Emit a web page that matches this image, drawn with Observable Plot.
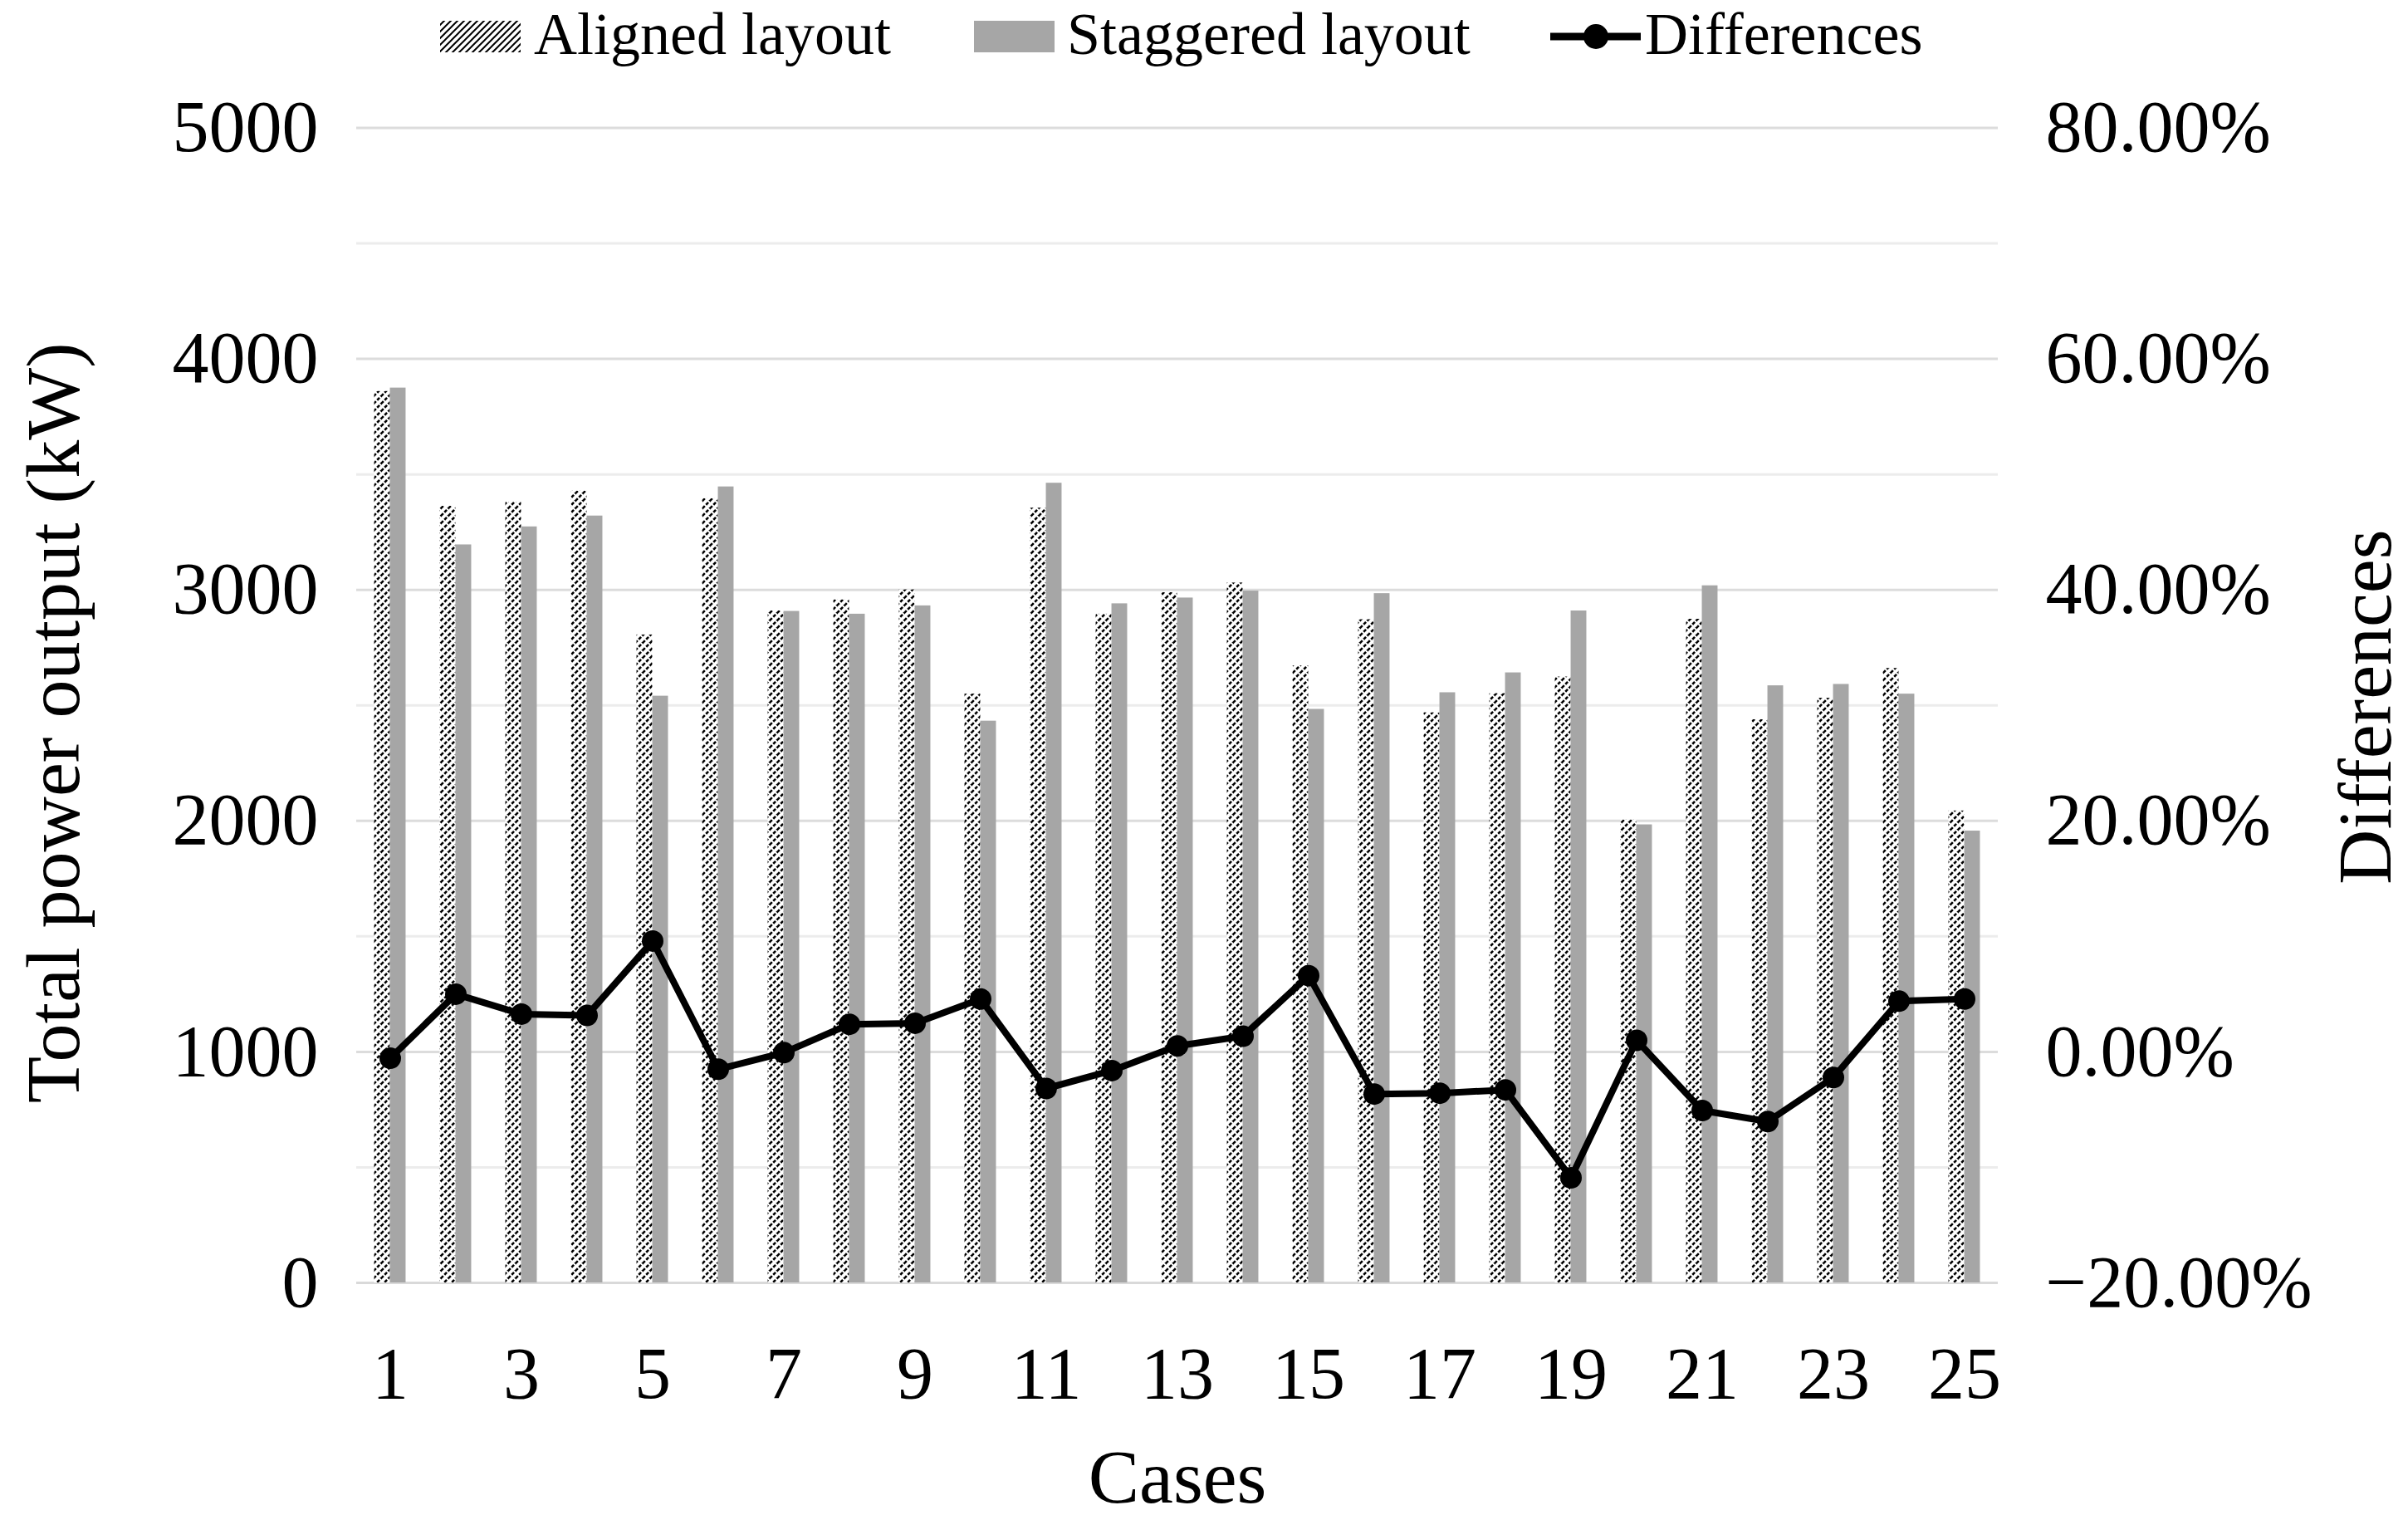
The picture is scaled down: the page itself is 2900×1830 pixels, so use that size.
<!DOCTYPE html>
<html>
<head>
<meta charset="utf-8">
<script src="https://cdn.jsdelivr.net/npm/d3@7"></script>
<script src="https://cdn.jsdelivr.net/npm/@observablehq/plot@0.6"></script>
<style>
  html, body { margin: 0; padding: 0; background: #fff; }
  #chart { width: 2900px; }
  svg { display: block; }
</style>
</head>
<body>
<div id="chart"></div>
<script>
// ---- Data ----
const cases = [1, 2, 3, 4, 5, 6, 7, 8, 9, 10, 11, 12, 13, 14, 15, 16, 17, 18, 19, 20, 21, 22, 23, 24, 25];
const aligned = [3859, 3362, 3380, 3428, 2805, 3395, 2909, 2957, 3000, 2549, 3354, 2895, 2988, 3030, 2671, 2871, 2468, 2551, 2623, 2004, 2873, 2438, 2531, 2660, 2043];
const staggered = [3874, 3195, 3273, 3320, 2540, 3446, 2907, 2895, 2931, 2432, 3462, 2940, 2965, 2995, 2483, 2984, 2555, 2641, 2909, 1983, 3018, 2585, 2591, 2549, 1956];
const differences = [-0.55, 5.0, 3.27, 3.15, 9.6, -1.5, -0.07, 2.39, 2.48, 4.58, -3.17, -1.62, 0.52, 1.36, 6.6, -3.65, -3.58, -3.29, -10.9, 1.0, -5.08, -6.03, -2.22, 4.39, 4.58];
const leftTicks = [0, 1000, 2000, 3000, 4000, 5000];
const rightTickLabels = ["\u221220.00%", "0.00%", "20.00%", "40.00%", "60.00%", "80.00%"];
const xTickLabels = [1, 3, 5, 7, 9, 11, 13, 15, 17, 19, 21, 23, 25];
const gridMajor = [1000, 2000, 3000, 4000, 5000];
const gridMinor = [500, 1500, 2500, 3500, 4500];
const seriesNames = ["Aligned layout", "Staggered layout", "Differences"];

// Right axis (Differences, %) maps -20%..80% onto the left axis 0..5000 kW
const pctToKW = p => (p + 20) * 50;

const alignedData = cases.map((c, i) => ({case: c, value: aligned[i]}));
const staggeredData = cases.map((c, i) => ({case: c, value: staggered[i]}));
const diffData = cases.map((c, i) => ({case: c, diff: differences[i]}));

const FONT = "Liberation Serif, Times New Roman, serif";
const NS = "http://www.w3.org/2000/svg";

function hatchPattern(id, size, sw, dash) {
  const s = size;
  const p = document.createElementNS(NS, "pattern");
  p.setAttribute("id", id);
  p.setAttribute("patternUnits", "userSpaceOnUse");
  p.setAttribute("width", s);
  p.setAttribute("height", s);
  const bg = document.createElementNS(NS, "rect");
  bg.setAttribute("width", s); bg.setAttribute("height", s); bg.setAttribute("fill", "#fff");
  p.appendChild(bg);
  const path = document.createElementNS(NS, "path");
  path.setAttribute("d", `M-1,1 L1,-1 M0,${s} L${s},0 M${s - 1},${s + 1} L${s + 1},${s - 1}`);
  path.setAttribute("stroke", "#000");
  path.setAttribute("stroke-width", sw);
  if (dash) path.setAttribute("stroke-dasharray", dash);
  p.appendChild(path);
  return p;
}

// ---- Legend (above the SVG) ----
const legendH = 90;
const leg = d3.create("svg").attr("width", 2900).attr("height", legendH)
  .style("font-family", FONT).style("font-size", "72px");
leg.append("defs").node().appendChild(hatchPattern("hatchLegend", 8, 2, null));
leg.append("rect").attr("x", 530).attr("y", 25).attr("width", 97).attr("height", 38).attr("fill", "url(#hatchLegend)");
leg.append("text").attr("x", 643).attr("y", 65).text(seriesNames[0]);
leg.append("rect").attr("x", 1173).attr("y", 25).attr("width", 97).attr("height", 38).attr("fill", "#a6a6a6");
leg.append("text").attr("x", 1285).attr("y", 65).text(seriesNames[1]);
leg.append("line").attr("x1", 1867).attr("x2", 1976).attr("y1", 44).attr("y2", 44).attr("stroke", "#000").attr("stroke-width", 9);
leg.append("circle").attr("cx", 1922).attr("cy", 44).attr("r", 15).attr("fill", "#000");
leg.append("text").attr("x", 1981).attr("y", 65).text(seriesNames[2]);
document.getElementById("chart").appendChild(leg.node());

// ---- Chart ----
const W = 2900, H = 1740;
const mL = 429, mR = 494, mT = 63.5, mB = 286;
const bw = (W - mL - mR) / cases.length;
const barW = 19;

const defsMark = () => {
  const d = document.createElementNS(NS, "defs");
  d.appendChild(hatchPattern("hatchAligned", 9, 2.6, "4,2"));
  return d;
};

const chart = Plot.plot({
  width: W,
  height: H,
  marginLeft: mL,
  marginRight: mR,
  marginTop: mT,
  marginBottom: mB,
  style: {fontFamily: FONT, fontSize: "88px", color: "#000", background: "#fff", overflow: "visible"},
  x: {type: "band", domain: cases, padding: 0, label: null},
  y: {domain: [0, 5000], label: null},
  marks: [
    defsMark,
    Plot.ruleY(gridMinor, {stroke: "#ececec", strokeWidth: 3}),
    Plot.ruleY(gridMajor, {stroke: "#dcdcdc", strokeWidth: 3}),
    Plot.ruleY([0], {stroke: "#d9d9d9", strokeWidth: 3}),
    Plot.barY(alignedData, {x: "case", y: "value", fill: "url(#hatchAligned)",
      insetLeft: bw / 2 - barW, insetRight: bw / 2}),
    Plot.barY(staggeredData, {x: "case", y: "value", fill: "#a6a6a6",
      insetLeft: bw / 2, insetRight: bw / 2 - barW}),
    Plot.line(diffData, {x: "case", y: d => pctToKW(d.diff), stroke: "#000", strokeWidth: 8, strokeLinejoin: "round"}),
    Plot.dot(diffData, {x: "case", y: d => pctToKW(d.diff), r: 13, fill: "#000"}),
    Plot.axisY(leftTicks, {anchor: "left", tickSize: 0, tickPadding: 46, fontSize: 88, label: null,
      tickFormat: d => String(d)}),
    Plot.axisY(leftTicks, {anchor: "right", tickSize: 0, tickPadding: 57, fontSize: 88, label: null,
      tickFormat: d => rightTickLabels[leftTicks.indexOf(d)]}),
    Plot.axisX(xTickLabels, {anchor: "bottom", tickSize: 0, tickPadding: 76, fontSize: 88, label: null}),
    Plot.text(["Cases"], {text: d => d, frameAnchor: "bottom", lineAnchor: "top", dy: 199, fontSize: 92}),
    Plot.text(["Total power output (kW)"], {text: d => d, frameAnchor: "left", rotate: -90,
      textAnchor: "middle", lineAnchor: "middle", dx: -364, dy: 21, fontSize: 92}),
    Plot.text(["Differences"], {text: d => d, frameAnchor: "right", rotate: -90,
      textAnchor: "middle", lineAnchor: "middle", dx: 443, dy: 2, fontSize: 92})
  ]
});
document.getElementById("chart").appendChild(chart);
</script>
</body>
</html>
